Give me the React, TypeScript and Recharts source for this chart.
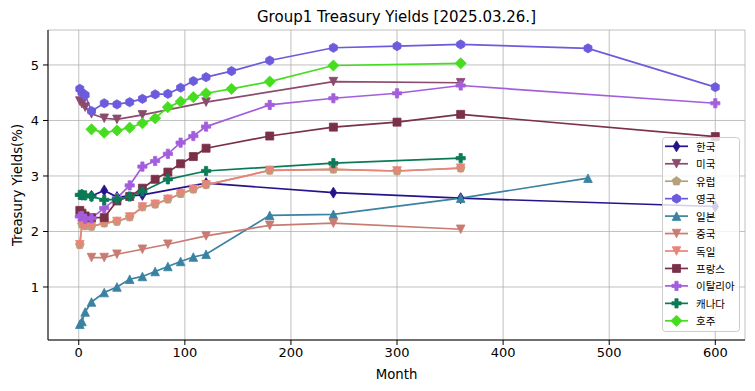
import React from "react"
import {
  LineChart,
  Line,
  XAxis,
  YAxis,
  CartesianGrid,
} from "recharts"

// maturities (months) per country
const KR_M = [3, 12, 24, 36, 60, 120, 240, 360, 600]
const US_M = [1, 3, 6, 12, 24, 36, 60, 120, 240, 360]
const EU_M = [1, 3, 6, 12, 24, 36, 48, 60, 72, 84, 96, 108, 120, 180, 240, 300, 360]
const UK_M = [1, 3, 6, 12, 24, 36, 48, 60, 72, 84, 96, 108, 120, 144, 180, 240, 300, 360, 480, 600]
const JP_M = [1, 3, 6, 12, 24, 36, 48, 60, 72, 84, 96, 108, 120, 180, 240, 360, 480]
const CN_M = [12, 24, 36, 60, 84, 120, 180, 240, 360]
const DE_M = [1, 3, 6, 12, 24, 36, 48, 60, 72, 84, 96, 108, 120, 180, 240, 300, 360]
const FR_M = [1, 3, 6, 12, 24, 36, 48, 60, 72, 84, 96, 108, 120, 180, 240, 300, 360, 600]
const IT_M = [1, 3, 6, 12, 24, 36, 48, 60, 72, 84, 96, 108, 120, 180, 240, 300, 360, 600]
const CA_M = [1, 3, 6, 12, 24, 36, 48, 60, 84, 120, 240, 360]
const AU_M = [12, 24, 36, 48, 60, 72, 84, 96, 108, 120, 144, 180, 240, 360]

// yields (%)
const KR_V = [2.66, 2.64, 2.74, 2.62, 2.66, 2.87, 2.7, 2.6, 2.45]
const US_V = [4.35, 4.3, 4.24, 4.12, 4.04, 4.02, 4.1, 4.33, 4.7, 4.68]
const EU_V = [1.76, 2.13, 2.1, 2.09, 2.15, 2.18, 2.26, 2.44, 2.49, 2.58, 2.68, 2.76, 2.84, 3.1, 3.12, 3.09, 3.14]
const UK_V = [4.57, 4.5, 4.46, 4.17, 4.31, 4.29, 4.33, 4.39, 4.47, 4.48, 4.59, 4.71, 4.78, 4.89, 5.08, 5.31, 5.34, 5.37, 5.3, 4.6]
const JP_V = [0.33, 0.38, 0.55, 0.73, 0.9, 1.0, 1.14, 1.19, 1.28, 1.37, 1.46, 1.54, 1.59, 2.29, 2.31, 2.6, 2.96]
const CN_V = [1.53, 1.53, 1.59, 1.68, 1.77, 1.92, 2.11, 2.15, 2.04]
const DE_V = [1.76, 2.13, 2.1, 2.09, 2.15, 2.18, 2.26, 2.44, 2.49, 2.58, 2.68, 2.76, 2.84, 3.1, 3.12, 3.09, 3.14]
const FR_V = [2.38, 2.33, 2.28, 2.25, 2.25, 2.55, 2.63, 2.78, 2.94, 3.07, 3.22, 3.35, 3.5, 3.72, 3.88, 3.97, 4.11, 3.71]
const IT_V = [2.27, 2.28, 2.23, 2.24, 2.42, 2.6, 2.83, 3.17, 3.27, 3.4, 3.6, 3.72, 3.89, 4.28, 4.4, 4.49, 4.63, 4.31]
const CA_V = [2.66, 2.66, 2.65, 2.63, 2.57, 2.58, 2.63, 2.72, 2.94, 3.09, 3.23, 3.32]
const AU_V = [3.84, 3.78, 3.82, 3.87, 3.95, 4.04, 4.24, 4.34, 4.42, 4.49, 4.57, 4.7, 4.99, 5.03]

const X_TICKS = [0, 100, 200, 300, 400, 500, 600]
const Y_TICKS = [1, 2, 3, 4, 5]

const FONT = "DejaVu Sans"

type Shape = "d" | "v" | "p" | "h" | "^" | "s" | "P" | "D"

const SERIES: { name: string; m: number[]; v: number[]; color: string; shape: Shape }[] = [
  { name: "한국", m: KR_M, v: KR_V, color: "#27128a", shape: "d" },
  { name: "미국", m: US_M, v: US_V, color: "#8b4a6e", shape: "v" },
  { name: "유럽", m: EU_M, v: EU_V, color: "#b3a27a", shape: "p" },
  { name: "영국", m: UK_M, v: UK_V, color: "#6c5bdc", shape: "h" },
  { name: "일본", m: JP_M, v: JP_V, color: "#3a82a2", shape: "^" },
  { name: "중국", m: CN_M, v: CN_V, color: "#c97b72", shape: "v" },
  { name: "독일", m: DE_M, v: DE_V, color: "#e8847a", shape: "v" },
  { name: "프랑스", m: FR_M, v: FR_V, color: "#7a3046", shape: "s" },
  { name: "이탈리아", m: IT_M, v: IT_V, color: "#a35edb", shape: "P" },
  { name: "캐나다", m: CA_M, v: CA_V, color: "#0b7a56", shape: "P" },
  { name: "호주", m: AU_M, v: AU_V, color: "#46dd20", shape: "D" },
]

function poly(cx: number, cy: number, r: number, n: number, rot: number) {
  const pts: string[] = []
  for (let i = 0; i < n; i++) {
    const a = rot + (i * 2 * Math.PI) / n
    pts.push(`${cx + r * Math.cos(a)},${cy + r * Math.sin(a)}`)
  }
  return pts.join(" ")
}

function Marker({ cx, cy, shape, color }: { cx: number; cy: number; shape: Shape; color: string }) {
  if (cx == null || cy == null) return null
  const r = 4.3
  let pts = ""
  switch (shape) {
    case "d":
      pts = `${cx},${cy - 5.5} ${cx + 3.4},${cy} ${cx},${cy + 5.5} ${cx - 3.4},${cy}`
      break
    case "v":
      pts = `${cx - r},${cy - r} ${cx + r},${cy - r} ${cx},${cy + r}`
      break
    case "^":
      pts = `${cx - r},${cy + r} ${cx + r},${cy + r} ${cx},${cy - r}`
      break
    case "p":
      pts = poly(cx, cy, 4.6, 5, -Math.PI / 2)
      break
    case "h":
      pts = poly(cx, cy, 4.6, 6, -Math.PI / 2)
      break
    case "s":
      pts = `${cx - 4},${cy - 4} ${cx + 4},${cy - 4} ${cx + 4},${cy + 4} ${cx - 4},${cy + 4}`
      break
    case "D":
      pts = `${cx},${cy - 5.6} ${cx + 5.6},${cy} ${cx},${cy + 5.6} ${cx - 5.6},${cy}`
      break
    case "P": {
      const a = 4.6
      const b = 1.6
      pts = [
        [-b, -a], [b, -a], [b, -b], [a, -b], [a, b], [b, b],
        [b, a], [-b, a], [-b, b], [-a, b], [-a, -b], [-b, -b],
      ]
        .map(([x, y]) => `${cx + x},${cy + y}`)
        .join(" ")
      break
    }
  }
  return <polygon points={pts} fill={color} stroke={color} strokeWidth={0.8} />
}

const LEFT = 48
const RIGHT = 745
const TOP = 30
const BOTTOM = 340

export default function App() {
  return (
    <div
      style={{
        position: "absolute",
        left: 0,
        top: 0,
        width: 755,
        height: 391,
        background: "#fff",
        fontFamily: FONT,
      }}
    >
      <LineChart
        width={755}
        height={391}
        margin={{ top: TOP, right: 755 - RIGHT, bottom: 6, left: 0 }}
      >
        <CartesianGrid stroke="#b0b0b0" strokeWidth={0.8} />
        <XAxis
          dataKey="m"
          type="number"
          domain={[-29, 628]}
          ticks={X_TICKS}
          allowDataOverflow
          height={45}
          tickSize={5}
          tickMargin={3}
          stroke="#000"
          tick={{ fill: "#000", fontSize: 13, fontFamily: FONT }}
        />
        <XAxis
          xAxisId="top"
          orientation="top"
          type="number"
          domain={[-29, 628]}
          height={0}
          tick={false}
          tickLine={false}
          stroke="#000"
        />
        <YAxis
          type="number"
          domain={[0.045, 5.63]}
          ticks={Y_TICKS}
          allowDataOverflow
          width={LEFT}
          tickSize={5}
          tickMargin={4}
          stroke="#000"
          tick={{ fill: "#000", fontSize: 13, fontFamily: FONT }}
        />
        <YAxis
          yAxisId="right"
          orientation="right"
          type="number"
          domain={[0.045, 5.63]}
          width={0}
          tick={false}
          tickLine={false}
          stroke="#000"
        />
        {SERIES.map((s) => (
          <Line
            key={s.name}
            name={s.name}
            data={s.m.map((m, i) => ({ m, v: s.v[i] }))}
            dataKey="v"
            type="linear"
            stroke={s.color}
            strokeWidth={1.7}
            isAnimationActive={false}
            activeDot={false}
            dot={(p: any) => (
              <Marker key={`${s.name}-${p.index}`} cx={p.cx} cy={p.cy} shape={s.shape} color={s.color} />
            )}
          />
        ))}
      </LineChart>
      <svg
        width={755}
        height={391}
        style={{ position: "absolute", left: 0, top: 0, pointerEvents: "none" }}
      >
        <text
          x={(LEFT + RIGHT) / 2}
          y={17}
          textAnchor="middle"
          dominantBaseline="central"
          fontSize={15}
          fontFamily={FONT}
          fill="#000"
        >
          Group1 Treasury Yields [2025.03.26.]
        </text>
        <text
          x={(LEFT + RIGHT) / 2}
          y={374}
          textAnchor="middle"
          dominantBaseline="central"
          fontSize={13.3}
          fontFamily={FONT}
          fill="#000"
        >
          Month
        </text>
        <text
          x={17}
          y={(TOP + BOTTOM) / 2}
          textAnchor="middle"
          dominantBaseline="central"
          fontSize={13.3}
          fontFamily={FONT}
          fill="#000"
          transform={`rotate(-90, 17, ${(TOP + BOTTOM) / 2})`}
        >
          Treasury Yields(%)
        </text>
        <rect
          x={662.5}
          y={137.5}
          width={77}
          height={194}
          rx={3}
          fill="#fff"
          fillOpacity={0.8}
          stroke="#cccccc"
        />
        {SERIES.map((s, i) => {
          const y = 146.3 + i * 17.45
          return (
            <g key={s.name}>
              <line x1={665} x2={688} y1={y} y2={y} stroke={s.color} strokeWidth={1.7} />
              <Marker cx={676.5} cy={y} shape={s.shape} color={s.color} />
              <text
                x={696}
                y={y}
                dominantBaseline="central"
                fontSize={10.5}
                fontFamily="Noto Sans CJK KR"
                fill="#000"
              >
                {s.name}
              </text>
            </g>
          )
        })}
      </svg>
    </div>
  )
}
